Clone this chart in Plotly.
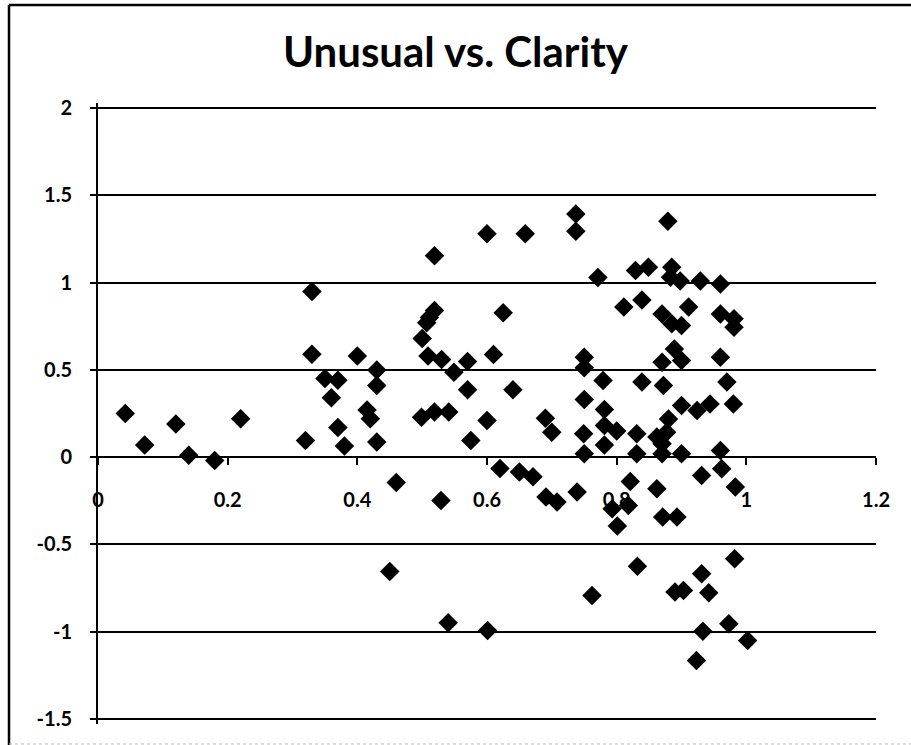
import plotly.graph_objects as go

# Clarity (x) and Unusual (y) scores
clarity = [
    0.042, 0.072, 0.12, 0.14, 0.18, 0.22, 0.32, 0.33, 0.33, 0.35,
    0.37, 0.36, 0.37, 0.38, 0.40, 0.43, 0.43, 0.415, 0.42, 0.43,
    0.46, 0.45, 0.50, 0.507, 0.511, 0.519, 0.519, 0.509, 0.53, 0.549,
    0.57, 0.57, 0.499, 0.519, 0.541, 0.575, 0.529, 0.54, 0.60, 0.61,
    0.60, 0.625, 0.64, 0.601, 0.62, 0.65, 0.671, 0.659, 0.69, 0.70,
    0.691, 0.708, 0.737, 0.737, 0.739, 0.75, 0.75, 0.75, 0.749, 0.75,
    0.762, 0.771, 0.779, 0.781, 0.781, 0.781, 0.80, 0.793, 0.801, 0.811,
    0.818, 0.821, 0.829, 0.831, 0.831, 0.832, 0.839, 0.839, 0.849, 0.862,
    0.862, 0.870, 0.870, 0.872, 0.870, 0.870, 0.871, 0.877, 0.879, 0.880,
    0.883, 0.885, 0.885, 0.889, 0.890, 0.893, 0.898, 0.90, 0.90, 0.90,
    0.90, 0.903, 0.911, 0.923, 0.924, 0.929, 0.931, 0.931, 0.933, 0.942,
    0.944, 0.96, 0.96, 0.96, 0.96, 0.962, 0.97, 0.973, 0.98, 0.981,
    0.981, 0.982, 0.983, 1.002,
]
unusual = [
    0.25, 0.07, 0.19, 0.01, -0.02, 0.22, 0.095, 0.95, 0.59, 0.45,
    0.44, 0.34, 0.17, 0.063, 0.58, 0.50, 0.41, 0.27, 0.22, 0.086,
    -0.145, -0.656, 0.68, 0.77, 0.80, 0.84, 1.155, 0.579, 0.56, 0.487,
    0.548, 0.386, 0.229, 0.258, 0.258, 0.095, -0.249, -0.95, 1.28, 0.588,
    0.21, 0.827, 0.386, -0.994, -0.065, -0.085, -0.112, 1.28, 0.223, 0.143,
    -0.229, -0.258, 1.394, 1.295, -0.20, 0.573, 0.512, 0.33, 0.134, 0.019,
    -0.793, 1.03, 0.439, 0.273, 0.181, 0.07, 0.15, -0.296, -0.395, 0.86,
    -0.277, -0.14, 1.07, 0.134, 0.019, -0.625, 0.90, 0.43, 1.089, 0.115,
    -0.182, 0.821, 0.544, 0.41, 0.076, 0.019, -0.344, 0.143, 1.352, 0.219,
    1.031, 1.089, 0.764, 0.62, -0.774, -0.344, 1.01, 0.754, 0.554, 0.296,
    0.019, -0.764, 0.86, -1.166, 0.267, 1.01, -0.105, -0.669, -0.999, -0.778,
    0.305, 0.993, 0.821, 0.573, 0.038, -0.067, 0.43, -0.955, 0.305, 0.793,
    0.745, -0.583, -0.172, -1.051,
]

x_ticks = [0, 0.2, 0.4, 0.6, 0.8, 1, 1.2]
x_tick_text = ["0", "0.2", "0.4", "0.6", "0.8", "1", "1.2"]
y_ticks = [-1.5, -1, -0.5, 0, 0.5, 1, 1.5, 2]
y_tick_text = ["-1.5", "-1", "-0.5", "0", "0.5", "1", "1.5", "2"]

# padding so the outermost gridlines (2 and -1.5) are still drawn
X_RANGE = [0, 1.2]
Y_RANGE = [-1.53, 2.03]

FONT = "Lato"
ML, MR, MT, MB = 98, 35, 103, 21
W, H = 911, 745

fig = go.Figure(
    go.Scatter(
        x=clarity,
        y=unusual,
        mode="markers",
        marker=dict(symbol="diamond", size=15, color="black", line=dict(width=0)),
        showlegend=False,
    )
)

# x axis crosses the y axis at y = 0
zero_pos = (0 - Y_RANGE[0]) / (Y_RANGE[1] - Y_RANGE[0])

fig.update_layout(
    width=W,
    height=H,
    margin=dict(l=ML, r=MR, t=MT, b=MB),
    paper_bgcolor="white",
    plot_bgcolor="white",
    font=dict(family=FONT, color="black"),
    title=dict(
        text="<b>Unusual vs. Clarity</b>",
        x=0.5,
        xanchor="center",
        y=1 - 52 / H,
        yanchor="middle",
        font=dict(family=FONT, size=42, color="black"),
    ),
    xaxis=dict(
        range=X_RANGE,
        tickvals=x_ticks,
        ticktext=x_tick_text,
        anchor="free",
        position=zero_pos,
        showgrid=False,
        zeroline=False,
        showline=True,
        linecolor="black",
        linewidth=2,
        ticks="outside",
        ticklen=7,
        tickwidth=2,
        tickcolor="black",
        ticklabelstandoff=18,
        tickfont=dict(family=FONT, size=20, color="black", weight="bold"),
    ),
    yaxis=dict(
        range=Y_RANGE,
        domain=[0, 1],
        tickvals=y_ticks,
        ticktext=y_tick_text,
        showgrid=True,
        gridcolor="black",
        gridwidth=2,
        zeroline=False,
        showline=True,
        linecolor="black",
        linewidth=2,
        ticks="outside",
        ticklen=6,
        tickwidth=2,
        tickcolor="black",
        ticklabelstandoff=14,
        tickfont=dict(family=FONT, size=20, color="black", weight="bold"),
    ),
)

# Chart frame around the whole figure (left and top edges, faint bottom edge)
def px_to_paper_x(px):
    return (px - ML) / (W - ML - MR)

def px_to_paper_y(py):
    return (H - MB - py) / (H - MT - MB)

fig.add_shape(type="line", xref="paper", yref="paper",
              x0=px_to_paper_x(9), x1=px_to_paper_x(9),
              y0=px_to_paper_y(5), y1=px_to_paper_y(760),
              line=dict(color="black", width=2.5))
fig.add_shape(type="line", xref="paper", yref="paper",
              x0=px_to_paper_x(9), x1=px_to_paper_x(920),
              y0=px_to_paper_y(5), y1=px_to_paper_y(5),
              line=dict(color="black", width=2.5))
fig.add_shape(type="line", xref="paper", yref="paper",
              x0=px_to_paper_x(9), x1=px_to_paper_x(920),
              y0=px_to_paper_y(744), y1=px_to_paper_y(744),
              line=dict(color="#bbbbbb", width=1, dash="dot"))

fig.write_html("out.html")
